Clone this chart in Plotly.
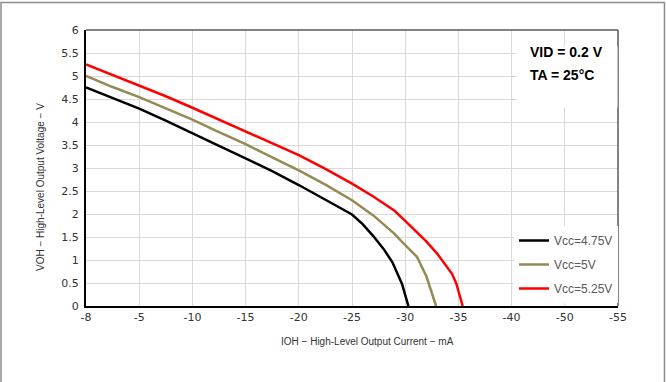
import plotly.graph_objects as go

# Axis tick positions (uniform spacing) and their printed labels
tick_vals = [0, -5, -10, -15, -20, -25, -30, -35, -40, -45, -50]
tick_text = ["-8", "-5", "-10", "-15", "-20", "-25", "-30", "-35", "-40", "-50", "-55"]
y_ticks = [0, 0.5, 1, 1.5, 2, 2.5, 3, 3.5, 4, 4.5, 5, 5.5, 6]
y_tick_text = ["0", "0.5", "1", "1.5", "2", "2.5", "3", "3.5", "4", "4.5", "5", "5.5", "6"]

# Vcc = 4.75 V
x_475 = [0, -2.5, -5, -7.5, -10, -12.5, -15, -17.5, -20, -22.5, -25, -26, -27, -28, -28.8, -29.7, -30.3]
y_475 = [4.75, 4.52, 4.29, 4.03, 3.75, 3.48, 3.21, 2.93, 2.63, 2.31, 1.99, 1.78, 1.52, 1.23, 0.95, 0.48, 0.0]

# Vcc = 5 V
x_500 = [0, -2.5, -5, -7.5, -10, -12.5, -15, -17.5, -20, -22.5, -25, -27, -29, -29.8, -31.1, -32.0, -32.9]
y_500 = [5.0, 4.76, 4.54, 4.30, 4.05, 3.78, 3.52, 3.23, 2.95, 2.64, 2.30, 1.97, 1.57, 1.37, 1.07, 0.64, 0.0]

# Vcc = 5.25 V
x_525 = [0, -2.5, -5, -7.5, -10, -12.5, -15, -17.5, -20, -22.5, -25, -27, -29, -30, -31, -32, -33, -33.6, -34.4, -34.8, -35.4]
y_525 = [5.25, 5.02, 4.80, 4.56, 4.31, 4.05, 3.80, 3.53, 3.28, 2.98, 2.66, 2.38, 2.07, 1.85, 1.62, 1.40, 1.14, 0.96, 0.70, 0.49, 0.0]

series = [
    ("Vcc=4.75V", x_475, y_475, "#000000"),
    ("Vcc=5V", x_500, y_500, "#948A54"),
    ("Vcc=5.25V", x_525, y_525, "#FF0000"),
]

fig = go.Figure()
for i, (name, xs, ys, col) in enumerate(series):
    fig.add_trace(go.Scatter(x=xs, y=ys, mode="lines", name=name,
                             legendgroup=f"g{i}",
                             line=dict(color=col, width=2.5)))

W, H = 666, 382
L, R, T, B = 86, 48, 30, 76
pw, ph = W - L - R, H - T - B

def px(xp):
    return (xp - L) / pw

def py(yp):
    return (H - B - yp) / ph

grid = "#D9D9D9"
fig.update_layout(
    width=W, height=H,
    margin=dict(l=L, r=R, t=T, b=B),
    paper_bgcolor="white", plot_bgcolor="white",
    font=dict(family="DejaVu Sans, Arial", color="#333333", size=11),
    showlegend=True,
    legend=dict(x=1.0, xanchor="right", y=py(226), yanchor="top",
                bgcolor="white", borderwidth=0,
                font=dict(family="Liberation Sans, Arial", size=12, color="#595959"),
                tracegroupgap=5, itemwidth=30),
    xaxis=dict(range=[0, -50], tickvals=tick_vals, ticktext=tick_text,
               showgrid=True, gridcolor=grid, gridwidth=1,
               showline=True, linecolor="black", linewidth=2,
               zeroline=False, ticks="", tickfont=dict(size=11, color="#333333")),
    yaxis=dict(range=[0, 6], tickvals=y_ticks, ticktext=y_tick_text,
               showgrid=True, gridcolor=grid, gridwidth=1,
               showline=True, linecolor="black", linewidth=2,
               zeroline=False, ticks="", ticklabelstandoff=3,
               tickfont=dict(size=11, color="#333333")),
    shapes=[
        # outer chart border
        dict(type="rect", xref="paper", yref="paper",
             x0=px(1), x1=px(664.5), y0=py(390), y1=py(2.5),
             line=dict(color="#8C8C8C", width=1.5), fillcolor="rgba(0,0,0,0)"),
        # top & right plot border
        dict(type="line", xref="paper", yref="paper", x0=0, x1=1, y0=1, y1=1,
             line=dict(color="#595959", width=1.5)),
        dict(type="line", xref="paper", yref="paper", x0=1, x1=1, y0=0, y1=1,
             line=dict(color="#595959", width=1.5)),
    ],
    annotations=[
        # white box behind condition text
        dict(xref="paper", yref="paper", x=px(516), y=py(46), xanchor="left", yanchor="top",
             text="", width=100, height=60, bgcolor="white", showarrow=False, borderpad=0),
        dict(xref="paper", yref="paper", x=px(528), y=py(52), xanchor="left", yanchor="middle",
             text="<b>VID = 0.2 V</b>", showarrow=False,
             font=dict(family="Liberation Sans Narrow, Arial Narrow, Liberation Sans", size=14, color="black")),
        dict(xref="paper", yref="paper", x=px(528), y=py(75), xanchor="left", yanchor="middle",
             text="<b>TA = 25°C</b>", showarrow=False,
             font=dict(family="Liberation Sans Narrow, Arial Narrow, Liberation Sans", size=14, color="black")),
        # axis titles
        dict(xref="paper", yref="paper", x=px(367), y=py(341), xanchor="center", yanchor="middle",
             text="IOH − High-Level Output Current − mA", showarrow=False,
             font=dict(family="Liberation Sans, Arial", size=10, color="#333333")),
        dict(xref="paper", yref="paper", x=px(40), y=py(187), xanchor="center", yanchor="middle",
             text="VOH − High-Level Output Voltage − V", showarrow=False, textangle=-90,
             font=dict(family="Liberation Sans, Arial", size=10, color="#333333")),
    ],
)

fig.write_html("out.html")
